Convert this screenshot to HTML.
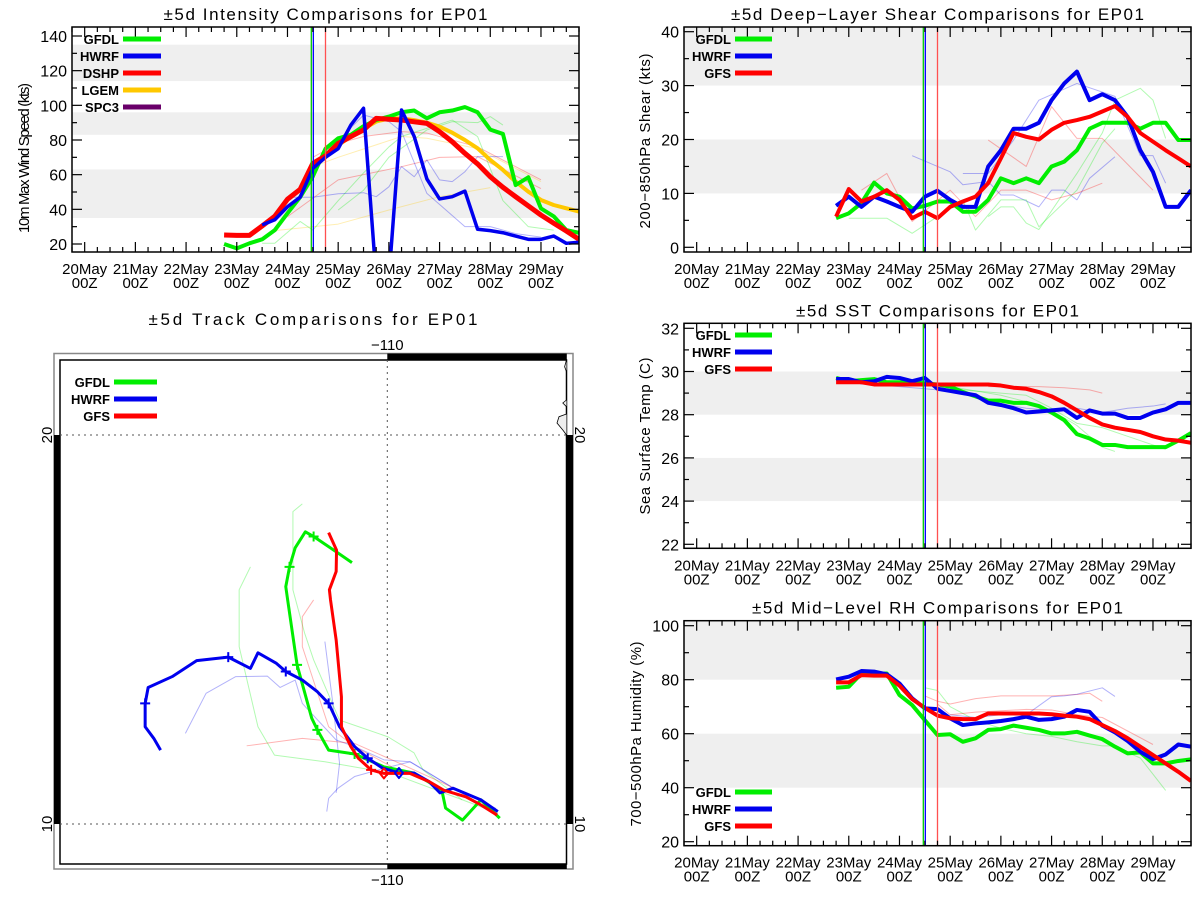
<!DOCTYPE html>
<html><head><meta charset="utf-8"><style>
html,body{margin:0;padding:0;background:#fff;}
svg{display:block;font-family:"Liberation Sans",sans-serif;}
</style></head><body>
<svg id="s" width="1200" height="900" xmlns="http://www.w3.org/2000/svg"></svg>
<script>
const dayLabels=['20May','21May','22May','23May','24May','25May','26May','27May','28May','29May'];
const hourLabel='00Z';
const markerDays=[4.47,4.51,4.75];
// Intensity (kts), 6-hourly
const intStart=2.75;
const intGFDL=[20,17.5,20.4,22.7,28,37.7,47,59,75,81,83,88,91.5,93.5,96,97,92.5,96,97,99,96,86,83.5,54,58.5,40.5,36,28,26.5];
const intHWRFStart=3.5;
const intHWRF=[31,34,41.5,47,63.6,70,75,88.6,98.3,0,0,97.3,82,57.5,46,47.3,50.5,28.5,27.7,26.5,24.6,22.7,22.7,24.6,20.4,21];
const intDSHP=[25.2,25,25,30.4,36,45.8,51.5,66.5,70.8,78,82,85.8,92.5,92,91.5,90.5,89.6,84.8,79,72.3,66.2,58.8,52.7,47.3,42,36.7,32,27.5,22.7];
const intLGEMStart=4.5;
const intLGEM=[65,70,77,82,86.5,90.6,92.5,92.5,91.5,90,87.7,84.2,80,75.2,68.5,62.7,56,50.2,45.4,42.5,40.6,38.7];
const intThinDays=[[3.75,5,6,7,8],[4,5,6.25,7,7.75,9],[4.5,5,5.5,6.25,6.75,7.75,9],[4.5,5,6.25,6.75,7.75,9],[3.5,3.75,4.25,4.5,5,5.5,6,6.25,7.25,7.75,8.25,8.75,9.25],[5,5.5,6,6.75,7.25,7.75,8,8.25],[4,4.5,5,5.5,5.75,6,6.25,6.5,6.75,7,7.25,7.5,7.75,8.25],[4.75,5.5,6,6.25,6.75,7.5,8,8.5,9]];
const intThinVals=[[27.7,31.5,39.6,47.3,52.5],[35.8,57,64.6,70,70.4,52],[70,78,82,84.8,84,76,57],[64.6,70,82,81,75,56],[20.4,20.4,33,28,45,61,76,82,91.5,82,45,30,28],[39.6,51,70,85.8,90.6,90,93.5,88.6],[47,47,49,49.6,47.3,53,64.6,58.8,68.5,57,56,61.7,70.4,70.4],[72.3,94.4,90.6,84.8,49.2,30,30,26,24]];
const intThinModels=['LGEM','DSHP','DSHP','LGEM','GFDL','GFDL','HWRF','HWRF'];
// Shear (kts)
const shrStart=2.75;
const shrGFDL=[5.4,6.3,8.2,12,10,9.4,7.2,7.7,8.5,8.5,6.6,6.6,8.8,12.8,11.9,12.8,11.9,15,15.9,18,22,23.1,23.1,23.1,22,23.1,23.1,19.9,19.9];
const shrHWRF=[7.7,9.4,7.5,9.4,8.5,7.5,6.6,9.4,10.5,8.8,7.5,7.5,15,18,22,22,23.1,27.3,30.4,32.6,27.3,28.4,27.3,24.2,18,14,7.5,7.5,10.6];
const shrGFS=[5.7,10.8,8.5,9.4,10.6,8.8,5.4,6.6,5.4,7.5,8.5,9.4,11.9,16.5,21.2,20.5,20,21.8,23.1,23.6,24.2,25.2,26.2,24.2,21.2,19.6,18,16.5,15];
const shrThinDays=[[4.25,5,5.25,5.75,6,6.25,6.75,7,7.25,7.5,7.75,8.25],[5.25,5.75,6.25,6.75,7.5,8.25,8.75,9,9.25],[3,3.75,4.25,4.75,5.25,5.5,6,6.5,6.75,7.5,8,8.25],[5.75,6,6.25,6.5,6.75,7.5,8,8.25,8.75,9,9.25],[3.25,3.75,4.25,5,5.5,6,6.5,7,7.5,8],[5.75,6.5,7,7.5,8,9]];
const shrThinVals=[[17,14,11.6,12.2,9.7,9.7,7.5,10.6,10.6,8.8,12.8,16.8],[13.7,13.7,19.9,27.3,30.4,28,17,17,11.9],[5.4,5.4,2.6,5.7,8.8,3.2,8.8,8.8,3.8,10.6,19.3,22],[5.7,7.5,7.5,4.5,3.3,13.7,21.2,27.3,29.5,27.3,20.2],[10.6,13.7,4.8,10.6,5.7,10.6,10.6,8.8,10,11.9],[19.9,15,26.1,20.2,20.2,10.6]];
const shrThinModels=['HWRF','HWRF','GFDL','GFDL','GFS','GFS'];
// SST (C)
const sstStart=2.75;
const sstGFDL=[29.7,29.55,29.6,29.65,29.5,29.5,29.5,29.45,29.4,29.3,29.05,28.85,28.65,28.65,28.55,28.55,28.4,28.1,27.75,27.1,26.9,26.6,26.6,26.5,26.5,26.5,26.5,26.8,27.15];
const sstHWRF=[29.65,29.65,29.5,29.55,29.75,29.7,29.55,29.7,29.2,29.1,29,28.9,28.55,28.45,28.3,28.1,28.15,28.2,28.25,27.85,28.2,28.05,28.05,27.85,27.85,28.1,28.25,28.55,28.55];
const sstGFS=[29.5,29.5,29.5,29.4,29.4,29.4,29.4,29.4,29.4,29.4,29.4,29.4,29.4,29.35,29.25,29.2,29.05,28.85,28.55,28.2,27.85,27.55,27.4,27.3,27.2,27,26.85,26.8,26.7];
const sstThinDays=[[5.75,6.25,6.75,7.25,7.75,8],[3,3.5,4,4.5,5,5.5,6,6.5,7,7.5,8,8.5,9,9.25],[5,5.5,6,6.5,7,7.5,8,8.5,9,9.25],[5,5.5,6,6.5,7,7.5,8,8.25]];
const sstThinVals=[[29.3,29.3,29.3,29.25,29.15,29],[29.5,29.4,29.3,29.2,29.1,28.8,28.5,28.3,28.2,28.3,28.1,28.3,28.4,28.5],[29.2,29.1,29,28.9,28.3,27.6,27.4,27,26.6,26.4],[29.3,29.1,28.9,28.6,28.2,27.5,26.5,26.3]];
const sstThinModels=['GFS','HWRF','GFDL','GFDL'];
// Mid-level RH (%)
const rhStart=2.75;
const rhGFDL=[77,77.4,82.3,82.3,82.3,74.3,70.6,65,59.5,59.8,57,58.3,61.4,61.7,63,62.2,61.4,60.1,60.1,60.7,59.3,58,55.2,52.7,53.1,49,49,49.9,50.5];
const rhHWRF=[80.1,81.1,83.2,83,82,78.6,73.1,69.4,69.1,65.7,63.2,63.8,64.2,64.7,65.4,66.3,65.1,65.4,66.3,68.8,68.1,63,60.5,57.3,53.3,50.6,52.3,56,55.2];
const rhGFS=[79,79,81.7,81.5,81.5,77.8,72.8,69.6,66.7,65.7,65.4,65.4,67.5,67.5,67.5,67.5,67.5,67.2,66.7,66.3,65.4,63.2,61,58.3,55.2,52.1,49,45.9,42.5];
const rhThinDays=[[4.5,4.75,5,5.5,6,6.5,7,7.5,7.75,8],[5,5.5,6,6.5,7,7.25,7.5,8,8.25],[4.5,4.75,5,5.5,6,6.5,7,7.5,8,8.25,8.5,8.75,9,9.25],[4.75,5,5.5,6,6.5,7,7.5,8,8.5,9]];
const rhThinVals=[[74,72,71,73,74,74,74,74.5,75,72],[67,66,67,67,73.7,74,74.6,77,73.8],[77,76,70,65,62,60,59,57,55.5,55.5,53,51,45,39],[71,67,68,68.5,69,68.8,67,66,61,56]];
const rhThinModels=['GFS','HWRF','GFDL','GFS'];
// Tracks (lon, lat)
const trkGFDLLon=[-107.01,-107.51,-108.0,-108.45,-108.55,-109.29,-110.09,-110.87,-111.56,-111.86,-112.01,-112.4,-112.65,-112.7,-112.6,-112.45,-112.18,-111.96,-111.36,-110.94];
const trkGFDLLat=[10.15,10.62,10.10,10.41,10.87,11.31,11.47,11.80,11.90,12.42,12.72,14.09,15.76,16.10,16.61,17.10,17.51,17.39,17.00,16.72];
const trkGFDLMarks=[7,9,11,14,17];
const trkHWRFLon=[-107.06,-107.51,-108.25,-108.6,-108.89,-109.29,-109.69,-110.13,-110.52,-110.87,-111.27,-111.56,-111.86,-112.26,-112.7,-112.95,-113.44,-113.64,-114.23,-115.07,-115.72,-116.36,-116.44,-116.44,-116.21,-116.03];
const trkHWRFLat=[10.32,10.62,10.92,10.80,11.09,11.31,11.31,11.44,11.69,11.99,12.50,13.10,13.40,13.70,13.92,14.13,14.40,14.00,14.29,14.20,13.79,13.51,13.10,12.50,12.20,11.90];
const trkHWRFMarks=[8,11,14,18,22];
const trkGFSLon=[-107.08,-107.51,-107.91,-108.5,-108.89,-109.4,-109.69,-110.09,-110.43,-110.77,-110.97,-111.22,-111.22,-111.36,-111.51,-111.54,-111.36,-111.35,-111.56];
const trkGFSLat=[10.23,10.49,10.70,10.87,11.09,11.30,11.30,11.30,11.39,11.69,11.99,12.50,13.27,14.73,15.76,16.02,16.49,17.04,17.49];
const trkGFSMarks=[8];
const trkThinLon=[[-113.64,-113.94,-113.94,-113.44,-113.0,-111.66,-109.88,-108.0,-107.06],[-112.26,-112.51,-112.51,-112.2,-111.96,-111.27,-109.98,-109.29,-109.05,-108.01],[-111.61,-111.56,-111.31,-110.87,-110.09,-109.39,-109.09,-108.3,-107.11],[-115.37,-114.82,-114.03,-113.19,-112.85,-112.45,-112.26,-111.36,-110.87,-110.09,-109.4,-108.31],[-111.66,-111.46,-111.27,-111.36],[-113.74,-112.26,-110.87,-109.88,-108.31,-107.11],[-111.96,-112.26,-112.26,-111.56,-110.87,-109.88]];
const trkThinLat=[[16.61,16.02,14.56,12.5,11.77,11.6,11.3,10.62,10.28],[18.23,18.03,16.02,14.91,14.22,12.67,12.24,11.83,11.39,10.62],[10.32,10.66,10.92,11.22,11.43,11.6,11.43,10.96,10.4],[12.33,13.36,13.79,13.8,13.51,13.7,13.1,12.16,11.99,11.65,11.6,10.96],[14.69,13.19,11.56,10.8],[12.01,12.2,12.07,11.65,10.96,10.28],[15.76,15.33,14.56,12.5,11.99,11.47]];
const trkThinModels=['GFDL','GFDL','HWRF','HWRF','HWRF','GFS','GFS'];

const COL={GFDL:'#00ee00',HWRF:'#0000ee',DSHP:'#ff0000',GFS:'#ff0000',LGEM:'#ffc800',SPC3:'#6a006a'};
const MARKCOL=['#00cc00','#0000ff','#ff5050'];
const NS='http://www.w3.org/2000/svg';
const svg=document.getElementById('s');
function mk(tag,parent,attrs){const e=document.createElementNS(NS,tag);for(const k in attrs)e.setAttribute(k,attrs[k]);parent.appendChild(e);return e;}
function txt(parent,str,attrs){const t=mk('text',parent,attrs);t.textContent=str;return t;}

function panel(P){
  const g=mk('g',svg,{});
  
  
  const X=d=>P.L+(d+0.25)/10*(P.R-P.L);
  const Y=v=>P.y1+(v-P.v1)*(P.y2-P.y1)/(P.v2-P.v1);
  const cid='clip-'+P.name;
  const cp=mk('clipPath',g,{id:cid});mk('rect',cp,{x:P.L,y:P.T,width:P.R-P.L,height:P.B-P.T});
  for(const b of P.bands){
    const r=mk('rect',g,{x:P.L,y:Y(b[1]),width:P.R-P.L,height:Y(b[0])-Y(b[1]),fill:'#efefef'});
    
    
  }
  const t=txt(g,P.title,{x:(P.L+P.R)/2,y:P.T-7,'text-anchor':'middle','font-size':17,textLength:P.titleW,lengthAdjust:'spacing'});
  
  
  const yt=txt(g,P.ytitle,{x:0,y:0,'text-anchor':'middle','font-size':15,textLength:P.ytW,lengthAdjust:'spacing',transform:`translate(${P.ytX},${P.ytY}) rotate(-90)`});
  
  
  const lines=mk('g',g,{'clip-path':`url(#${cid})`,fill:'none','stroke-linejoin':'round'});
  P.thinDays.forEach((ds,i)=>{
    const pts=ds.map((d,j)=>X(d)+','+Y(P.thinVals[i][j])).join(' ');
    const pl=mk('polyline',lines,{points:pts,stroke:COL[P.thinModels[i]],'stroke-width':1,'stroke-opacity':0.3});
    
    
  });
  markerDays.forEach((d,i)=>{
    const l=mk('line',g,{x1:X(d),x2:X(d),y1:P.T,y2:P.B,stroke:MARKCOL[i],'stroke-width':1.3});
    
    
  });
  P.series.forEach(s=>{
    const pts=s.vals.map((v,j)=>X(s.start+j*0.25)+','+Y(v)).join(' ');
    const pl=mk('polyline',lines,{points:pts,stroke:COL[s.model],'stroke-width':s.w||4});
    
    
  });
  mk('rect',g,{x:P.L,y:P.T,width:P.R-P.L,height:P.B-P.T,fill:'none',stroke:'#000','stroke-width':1.5});
  const ax=mk('g',g,{stroke:'#000','stroke-width':1.2});
  for(let d=-0.25;d<=9.76;d+=0.25){
    const maj=Math.abs(d-Math.round(d))<0.01;const len=maj?10:5;
    mk('line',ax,{x1:X(d),x2:X(d),y1:P.B,y2:P.B-len});
    mk('line',ax,{x1:X(d),x2:X(d),y1:P.T,y2:P.T+len});
  }
  for(let v=P.vmin;v<=P.vmax+1e-6;v+=P.minor){
    const maj=Math.abs(v/P.major-Math.round(v/P.major))<0.01;const len=maj?10:5;
    mk('line',ax,{x1:P.L,x2:P.L+len,y1:Y(v),y2:Y(v)});
    mk('line',ax,{x1:P.R,x2:P.R-len,y1:Y(v),y2:Y(v)});
    if(maj){const tl=txt(g,String(v),{x:P.L-5,y:Y(v)+6,'text-anchor':'end','font-size':16});
      
      }
  }
  dayLabels.forEach((lab,i)=>{
    const a=txt(g,lab,{x:X(i),y:P.B+22,'text-anchor':'middle','font-size':15});
    
    
    const b=txt(g,hourLabel,{x:X(i),y:P.B+36,'text-anchor':'middle','font-size':15});
    
    
  });
  legend(g,P.legend,P.legX,P.legY,P.legW);
}
function legend(parent,models,lx,ly,lw){
  const lg=mk('g',parent,{});
  
  
  models.forEach((m,i)=>{
    const y=ly+i*17;
    const t=txt(lg,m,{x:lx-4,y:y+5,'text-anchor':'end','font-size':13,'font-weight':'bold'});
    
    
    const l=mk('line',lg,{x1:lx,x2:lx+lw,y1:y,y2:y,stroke:COL[m],'stroke-width':5});
    
    
  });
}

panel({name:'intensity-chart',L:72,R:579,T:27,B:252,v1:140,y1:36,v2:20,y2:244,vmin:20,vmax:140,major:20,minor:10,
  bands:[[35,63],[83,96],[114,135]],title:'±5d Intensity Comparisons for EP01',titleW:324,
  ytitle:'10m Max Wind Speed (kts)',ytX:29,ytY:158,ytW:150,
  thinDays:intThinDays,thinVals:intThinVals,thinModels:intThinModels,
  series:[{model:'LGEM',start:intLGEMStart,vals:intLGEM},{model:'GFDL',start:intStart,vals:intGFDL},{model:'DSHP',start:intStart,vals:intDSHP,w:5},{model:'HWRF',start:intHWRFStart,vals:intHWRF,w:3.5}],
  legend:['GFDL','HWRF','DSHP','LGEM','SPC3'],legX:123,legY:39,legW:38});
panel({name:'shear-chart',L:684,R:1191,T:27,B:252,v1:40,y1:31.7,v2:0,y2:247.3,vmin:0,vmax:40,major:10,minor:5,
  bands:[[10,20],[30,40.8]],title:'±5d Deep−Layer Shear Comparisons for EP01',titleW:413,
  ytitle:'200−850hPa Shear (kts)',ytX:650,ytY:141,ytW:175,
  thinDays:shrThinDays,thinVals:shrThinVals,thinModels:shrThinModels,
  series:[{model:'GFDL',start:shrStart,vals:shrGFDL},{model:'HWRF',start:shrStart,vals:shrHWRF},{model:'GFS',start:shrStart,vals:shrGFS}],
  legend:['GFDL','HWRF','GFS'],legX:735,legY:39,legW:37});
panel({name:'sst-chart',L:684,R:1191,T:323.3,B:548.3,v1:32,y1:328.3,v2:22,y2:544.3,vmin:22,vmax:32,major:2,minor:1,
  bands:[[24,26],[28,30]],title:'±5d SST Comparisons for EP01',titleW:283,
  ytitle:'Sea Surface Temp (C)',ytX:650,ytY:436,ytW:157,
  thinDays:sstThinDays,thinVals:sstThinVals,thinModels:sstThinModels,
  series:[{model:'GFDL',start:sstStart,vals:sstGFDL},{model:'HWRF',start:sstStart,vals:sstHWRF},{model:'GFS',start:sstStart,vals:sstGFS}],
  legend:['GFDL','HWRF','GFS'],legX:735,legY:335,legW:37});
panel({name:'rh-chart',L:684,R:1191,T:620.7,B:845.7,v1:100,y1:625.7,v2:20,y2:841.7,vmin:20,vmax:100,major:20,minor:10,
  bands:[[40,60],[80,101.9]],title:'±5d Mid−Level RH Comparisons for EP01',titleW:371,
  ytitle:'700−500hPa Humidity (%)',ytX:641,ytY:734,ytW:185,
  thinDays:rhThinDays,thinVals:rhThinVals,thinModels:rhThinModels,
  series:[{model:'GFDL',start:rhStart,vals:rhGFDL},{model:'HWRF',start:rhStart,vals:rhHWRF},{model:'GFS',start:rhStart,vals:rhGFS}],
  legend:['GFDL','HWRF','GFS'],legX:735,legY:792,legW:37});

// Track map
(function(){
  const g=mk('g',svg,{});
  
  
  const LX=lon=>387.3+(lon+110)*37.6;
  const LY=lat=>824-(lat-10)*38.9;
  const t=txt(g,'±5d Track Comparisons for EP01',{x:313,y:325,'text-anchor':'middle','font-size':17,textLength:329,lengthAdjust:'spacing'});
  
  
  mk('rect',g,{x:54,y:353.5,width:519,height:515.5,fill:'none',stroke:'#888','stroke-width':1.5});
  const fb=mk('g',g,{fill:'#000'});
  mk('rect',fb,{x:387.3,y:353.5,width:179.5,height:6.5});
  mk('rect',fb,{x:387.3,y:864,width:179.5,height:5});
  mk('rect',fb,{x:54,y:LY(20),width:6,height:LY(10)-LY(20)});
  mk('rect',fb,{x:566.5,y:LY(20),width:6.5,height:LY(10)-LY(20)});
  mk('rect',g,{x:60,y:360,width:506.5,height:504,fill:'none',stroke:'#000','stroke-width':1.5});
  const coast=mk('path',g,{d:'M566.5,360 L564.6,366.7 L566.5,371.7 M566.5,400 L562.8,403 L566.5,406.7 M566.5,414 L559,416.7 L557,423 L562.8,430 L566.5,435',fill:'#eee',stroke:'#000','stroke-width':0.8});
  
  
  const grid=mk('g',g,{stroke:'#555','stroke-width':1,'stroke-dasharray':'2,4'});
  
  
  mk('line',grid,{x1:LX(-110),x2:LX(-110),y1:360,y2:864});
  [20,10].forEach(la=>mk('line',grid,{x1:60,x2:566.5,y1:LY(la),y2:LY(la)}));
  [350,885].forEach(yy=>{
    const l=txt(g,'−110',{x:LX(-110),y:yy,'text-anchor':'middle','font-size':15});
    
    
  });
  [20,10].forEach(la=>{
    const a=txt(g,String(la),{x:0,y:0,'text-anchor':'middle','font-size':15,transform:`translate(52,${LY(la)}) rotate(-90)`});
    
    
    const b=txt(g,String(la),{x:0,y:0,'text-anchor':'middle','font-size':15,transform:`translate(575,${LY(la)}) rotate(90)`});
    
    
  });
  const tr=mk('g',g,{fill:'none','stroke-linejoin':'round'});
  trkThinLon.forEach((ls,i)=>{
    const pl=mk('polyline',tr,{points:ls.map((lo,j)=>LX(lo)+','+LY(trkThinLat[i][j])).join(' '),stroke:COL[trkThinModels[i]],'stroke-width':1,'stroke-opacity':0.3});
    
    
  });
  function track(model,lons,lats,marks,w){
    const pl=mk('polyline',tr,{points:lons.map((lo,j)=>LX(lo)+','+LY(lats[j])).join(' '),stroke:COL[model],'stroke-width':w});
    
    
    marks.forEach(k=>{
      const x=LX(lons[k]),y=LY(lats[k]);
      const m=mk('path',tr,{d:`M${x-5},${y}H${x+5}M${x},${y-5}V${y+5}`,stroke:COL[model],'stroke-width':2});
      
      
    });
  }
  track('GFDL',trkGFDLLon,trkGFDLLat,trkGFDLMarks,3);
  track('HWRF',trkHWRFLon,trkHWRFLat,trkHWRFMarks,3);
  track('GFS',trkGFSLon,trkGFSLat,trkGFSMarks,3);
  [[-109.69,11.31,'HWRF'],[-110.09,11.30,'GFS']].forEach(d=>{
    const x=LX(d[0]),y=LY(d[1]);
    const dm=mk('path',tr,{d:`M${x},${y-5}L${x+4},${y}L${x},${y+5}L${x-4},${y}Z`,stroke:COL[d[2]],'stroke-width':2});
    
    
  });
  legend(g,['GFDL','HWRF','GFS'],114,382,43);
})();
</script>
</body></html>
